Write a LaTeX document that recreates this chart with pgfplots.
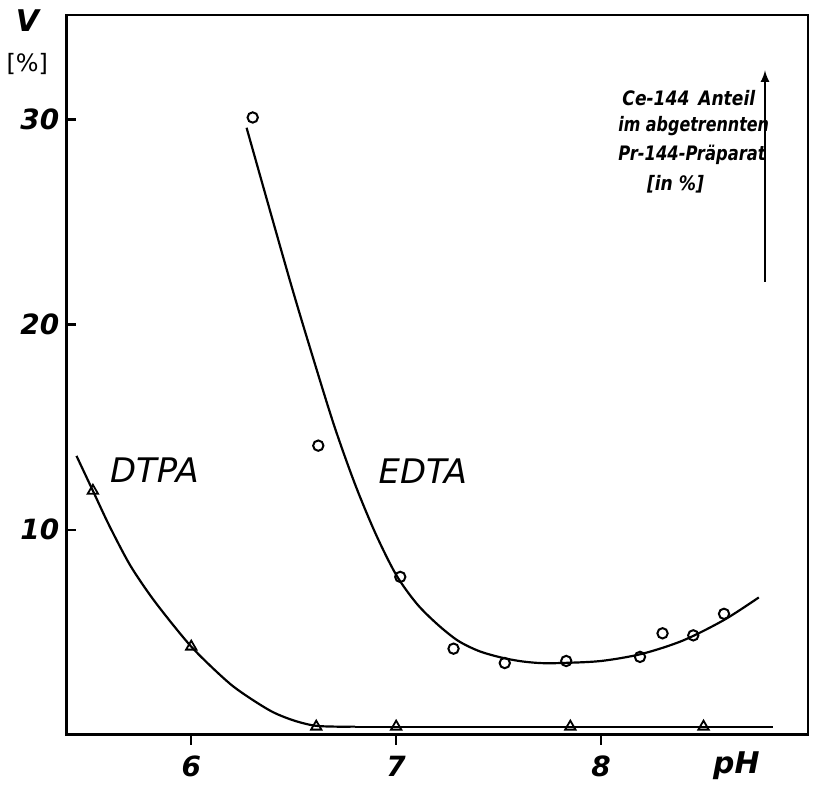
\documentclass[border=0pt]{standalone}
\usepackage{pgfplots}
\pgfplotsset{compat=1.18}
\usepackage{graphicx}
\usepackage{fontspec}
\setmainfont{DejaVu Sans}
\setsansfont{DejaVu Sans}
\begin{document}
\begin{tikzpicture}
\begin{axis}[
  scale only axis,
  width=372.5pt, height=361.5pt,
  xmin=5.39, xmax=9.01, ymin=0, ymax=35.1,
  axis line style={line width=1.4pt},
  tick style={line width=1.2pt, black},
  major tick length=5pt,
  tick pos=left,
  xtick={6,7,8}, ytick={10,20,30},
  xtick align=outside, ytick align=inside,
  xticklabel style={font=\fontsize{14}{16}\selectfont\itshape\bfseries, yshift=-2pt},
  yticklabel style={font=\fontsize{14}{16}\selectfont\itshape\bfseries},
  /pgf/number format/assume math mode=true,
  clip=false,
]
% DTPA fitted curve
\addplot[black, line width=1.1pt, smooth] coordinates {
 (5.44,13.6) (5.52,11.9) (5.6,10.2) (5.7,8.3) (5.8,6.8) (5.9,5.5) (6.0,4.3) (6.1,3.3) (6.2,2.4) (6.3,1.7) (6.4,1.1) (6.5,0.7) (6.6,0.45) (6.7,0.4) (6.8,0.4)};
\addplot[black, line width=1.1pt] coordinates {(6.8,0.4) (8.84,0.4)};
% EDTA fitted curve
\addplot[black, line width=1.1pt, smooth] coordinates {
 (6.27,29.6) (6.48,22.2) (6.6,18.2) (6.7,15.0) (6.8,12.2) (6.9,9.8) (7.0,7.8) (7.1,6.4) (7.2,5.4) (7.3,4.6) (7.4,4.1) (7.5,3.8) (7.6,3.6) (7.7,3.5) (7.8,3.5) (8.0,3.6) (8.2,3.95) (8.4,4.6) (8.6,5.6) (8.77,6.7)};
% DTPA points
\addplot[only marks, black, mark=triangle, mark size=3pt, mark options={fill=white, line width=0.9pt}] coordinates {
 (5.52,11.9) (6.0,4.3) (6.61,0.4) (7.0,0.4) (7.85,0.4) (8.5,0.4)};
% EDTA points
\addplot[only marks, black, mark=o, mark size=2.6pt, mark options={fill=white, line width=1pt}] coordinates {
 (6.30,30.1) (6.62,14.1) (7.02,7.7) (7.28,4.2) (7.53,3.5) (7.83,3.6) (8.19,3.8) (8.30,4.95) (8.45,4.85) (8.60,5.9)};
% labels
\node[font=\fontsize{17}{19}\selectfont\itshape] at (axis cs:5.82,12.9) {DTPA};
\node[font=\fontsize{17}{19}\selectfont\itshape] at (axis cs:7.13,12.86) {EDTA};
\node[font=\fontsize{15}{17}\selectfont\itshape\bfseries] at (axis cs:8.66,-1.5) {pH};
\node[font=\fontsize{15}{17}\selectfont\itshape\bfseries] at (axis cs:5.20,34.8) {V};
\node[font=\fontsize{12}{14}\selectfont] at (axis cs:5.20,32.7) {[\%]};
\node[anchor=west, font=\fontsize{10}{12}\selectfont\itshape\bfseries] at (axis cs:8.07,31.07) {\scalebox{0.86}[1]{Ce-144 \,Anteil}};
\node[anchor=west, font=\fontsize{10}{12}\selectfont\itshape\bfseries] at (axis cs:8.05,29.7) {\scalebox{0.8}[1]{im abgetrennten}};
\node[anchor=west, font=\fontsize{10}{12}\selectfont\itshape\bfseries] at (axis cs:8.05,28.3) {\scalebox{0.82}[1]{Pr-144-Präparat}};
\node[anchor=west, font=\fontsize{10}{12}\selectfont\itshape\bfseries] at (axis cs:8.19,26.85) {\scalebox{0.86}[1]{[in \%]}};
\draw[-latex, line width=1pt] (axis cs:8.80,22.1) -- (axis cs:8.80,32.4);
\end{axis}
\path (current axis.south west) ++(-31.5pt,-25pt) coordinate (bl);
\path (current axis.north east) ++(4pt,7.5pt) coordinate (tr);
\path (bl) rectangle (tr);
\end{tikzpicture}
\end{document}
